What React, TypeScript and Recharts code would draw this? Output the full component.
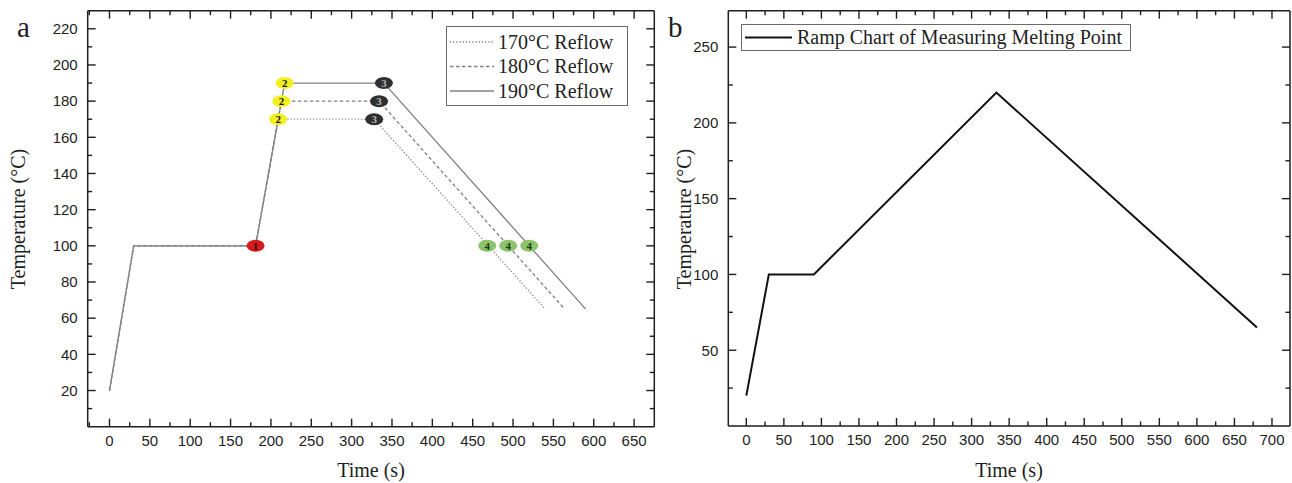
import React from "react";
import { ComposedChart, Line, Scatter, XAxis, YAxis } from "recharts";

// ---- panel a: reflow profiles ----
const reflowTime170 = [0, 30, 181, 209, 328, 540];
const reflowTemp170 = [20, 100, 100, 170, 170, 65];
const reflowTime180 = [0, 30, 181, 213, 334, 564];
const reflowTemp180 = [20, 100, 100, 180, 180, 65];
const reflowTime190 = [0, 30, 181, 217, 340, 590];
const reflowTemp190 = [20, 100, 100, 190, 190, 65];

// numbered stage markers
const stage1Time = [181];
const stage1Temp = [100];
const stage2Time = [209, 213, 217];
const stage2Temp = [170, 180, 190];
const stage3Time = [328, 334, 340];
const stage3Temp = [170, 180, 190];
const stage4Time = [468, 494, 520];
const stage4Temp = [100, 100, 100];

const reflowLabels = ["170°C Reflow", "180°C Reflow", "190°C Reflow"];

const xTicksA = [0, 50, 100, 150, 200, 250, 300, 350, 400, 450, 500, 550, 600, 650];
const yTicksA = [20, 40, 60, 80, 100, 120, 140, 160, 180, 200, 220];

// ---- panel b: melting point ramp ----
const rampTime = [0, 30, 90, 333, 680];
const rampTemp = [20, 100, 100, 220, 65];
const rampLabel = "Ramp Chart of Measuring Melting Point";

const xTicksB = [0, 50, 100, 150, 200, 250, 300, 350, 400, 450, 500, 550, 600, 650, 700];
const yTicksB = [50, 100, 150, 200, 250];

const zip = (ts: number[], vs: number[]) => ts.map((t, i) => ({ t, v: vs[i] }));

// minor ticks sit halfway between majors
const withMinors = (majors: number[], half: number, lo: number, hi: number) => {
  const all = new Set<number>(majors);
  majors.forEach((m) => {
    if (m - half > lo) all.add(m - half);
    if (m + half < hi) all.add(m + half);
  });
  return Array.from(all).sort((a, b) => a - b);
};

const INK = "#1e1e1e";
const SANS = "'Liberation Sans', Arial, sans-serif";
const SERIF = "'Liberation Serif', 'Times New Roman', serif";

type Side = "bottom" | "top" | "left" | "right";

const makeTick = (side: Side, majors: number[], showLabel: boolean) => (props: any) => {
  const { x, y, payload } = props;
  const v = payload.value;
  const major = majors.includes(v);
  const len = major ? 8 : 4.5;
  let line;
  let label = null;
  if (side === "bottom") {
    line = <line x1={x} y1={y} x2={x} y2={y - len} stroke={INK} strokeWidth={1.4} />;
    if (showLabel && major)
      label = (
        <text x={x} y={y + 19} textAnchor="middle" fontSize={15} fontFamily={SANS} fill={INK}>
          {v}
        </text>
      );
  } else if (side === "top") {
    line = <line x1={x} y1={y} x2={x} y2={y + len} stroke={INK} strokeWidth={1.4} />;
  } else if (side === "left") {
    line = <line x1={x} y1={y} x2={x + len} y2={y} stroke={INK} strokeWidth={1.4} />;
    if (showLabel && major)
      label = (
        <text x={x - 10} y={y + 5.3} textAnchor="end" fontSize={15} fontFamily={SANS} fill={INK}>
          {v}
        </text>
      );
  } else {
    line = <line x1={x} y1={y} x2={x - len} y2={y} stroke={INK} strokeWidth={1.4} />;
  }
  return (
    <g>
      {line}
      {label}
    </g>
  );
};

const stageMarker = (fill: string, textFill: string, n: string) => (props: any) => {
  const { cx, cy } = props;
  return (
    <g>
      <ellipse cx={cx} cy={cy} rx={9} ry={6} fill={fill} />
      <text
        x={cx}
        y={cy + 3.8}
        textAnchor="middle"
        fontSize={11}
        fontWeight="bold"
        fontFamily={SERIF}
        fill={textFill}
      >
        {n}
      </text>
    </g>
  );
};

const axisLine = { stroke: INK, strokeWidth: 1.5 };

// four framed axes: labelled bottom/left, mirrored tick-only top/right
const axes = (
  xDomain: [number, number],
  yDomain: [number, number],
  xMajors: number[],
  yMajors: number[],
  xHalf: number,
  yHalf: number
) => {
  const xAll = withMinors(xMajors, xHalf, xDomain[0], xDomain[1]);
  const yAll = withMinors(yMajors, yHalf, yDomain[0], yDomain[1]);
  const common = {
    type: "number" as const,
    allowDataOverflow: true,
    interval: 0 as const,
    tickSize: 0,
    tickMargin: 0,
    tickLine: false,
    axisLine,
  };
  return [
    <XAxis key="xb" dataKey="t" domain={xDomain} ticks={xAll} height={30} {...common} tick={makeTick("bottom", xMajors, true)} />,
    <XAxis
      key="xt"
      xAxisId="top"
      orientation="top"
      dataKey="t"
      domain={xDomain}
      ticks={xAll}
      height={1}
      {...common}
      tick={makeTick("top", xMajors, false)}
    />,
    <YAxis key="yl" domain={yDomain} ticks={yAll} width={50} {...common} tick={makeTick("left", yMajors, true)} />,
    <YAxis
      key="yr"
      yAxisId="right"
      orientation="right"
      domain={yDomain}
      ticks={yAll}
      width={1}
      {...common}
      tick={makeTick("right", yMajors, false)}
    />,
  ];
};

const LINE_GRAY = "#808080";

export default function App() {
  const dashes = ["1.2 2", "3.5 2.5", undefined];
  const reflows = [
    zip(reflowTime170, reflowTemp170),
    zip(reflowTime180, reflowTemp180),
    zip(reflowTime190, reflowTemp190),
  ];

  return (
    <div
      style={{
        position: "absolute",
        left: 0,
        top: 0,
        width: 1292,
        height: 483,
        background: "#fff",
        overflow: "hidden",
      }}
    >
      <div style={{ position: "absolute", left: 0, top: 0 }}>
        <ComposedChart width={670} height={483} margin={{ top: 9.7, right: 14.7, bottom: 26.3, left: 37.7 }}>
          {axes([-27, 675], [0, 230], xTicksA, yTicksA, 25, 10)}
          {reflows.map((d, i) => (
            <Line
              key={reflowLabels[i]}
              data={d}
              dataKey="v"
              type="linear"
              stroke={LINE_GRAY}
              strokeWidth={1.3}
              strokeDasharray={dashes[i]}
              dot={false}
              activeDot={false}
              isAnimationActive={false}
            />
          ))}
          <Scatter data={zip(stage1Time, stage1Temp)} dataKey="v" shape={stageMarker("#d41c1c", "#3a0000", "1")} isAnimationActive={false} />
          <Scatter data={zip(stage2Time, stage2Temp)} dataKey="v" shape={stageMarker("#f2f01e", "#111", "2")} isAnimationActive={false} />
          <Scatter data={zip(stage3Time, stage3Temp)} dataKey="v" shape={stageMarker("#2f2f2f", "#b8b8b8", "3")} isAnimationActive={false} />
          <Scatter data={zip(stage4Time, stage4Temp)} dataKey="v" shape={stageMarker("#8cc46c", "#1c3a10", "4")} isAnimationActive={false} />
        </ComposedChart>
      </div>

      <div style={{ position: "absolute", left: 670, top: 0 }}>
        <ComposedChart width={622} height={483} margin={{ top: 9.7, right: 1, bottom: 27, left: 8.3 }}>
          {axes([-24, 724], [0, 274], xTicksB, yTicksB, 25, 25)}
          <Line
            data={zip(rampTime, rampTemp)}
            dataKey="v"
            type="linear"
            stroke="#111"
            strokeWidth={2}
            dot={false}
            activeDot={false}
            isAnimationActive={false}
          />
        </ComposedChart>
      </div>

      {/* titles and legends */}
      <svg
        width={1292}
        height={483}
        style={{ position: "absolute", left: 0, top: 0, pointerEvents: "none" }}
      >
        <text x={17} y={37} fontSize={29} fontFamily={SERIF} fill={INK}>
          a
        </text>
        <text x={668} y={37} fontSize={29} fontFamily={SERIF} fill={INK}>
          b
        </text>

        <text
          x={0}
          y={0}
          transform="translate(25 219) rotate(-90)"
          textAnchor="middle"
          fontSize={20}
          fontFamily={SERIF}
          fill={INK}
        >
          Temperature (°C)
        </text>
        <text
          x={0}
          y={0}
          transform="translate(691 219) rotate(-90)"
          textAnchor="middle"
          fontSize={20}
          fontFamily={SERIF}
          fill={INK}
        >
          Temperature (°C)
        </text>
        <text x={371} y={477} textAnchor="middle" fontSize={20} fontFamily={SERIF} fill={INK}>
          Time (s)
        </text>
        <text x={1009} y={477} textAnchor="middle" fontSize={20} fontFamily={SERIF} fill={INK}>
          Time (s)
        </text>

        {/* legend a */}
        <rect x={446.5} y={26.5} width={181} height={79} fill="#fff" stroke="#6a6a6a" strokeWidth={1} />
        {reflowLabels.map((lab, i) => {
          const cy = 42 + i * 24.5;
          return (
            <g key={lab}>
              <line x1={450} y1={cy} x2={494} y2={cy} stroke={LINE_GRAY} strokeWidth={1.3} strokeDasharray={dashes[i]} />
              <text x={498} y={cy + 6.5} fontSize={20} fontFamily={SERIF} fill={INK}>
                {lab}
              </text>
            </g>
          );
        })}

        {/* legend b */}
        <rect x={741.5} y={24.5} width={389} height={26} fill="#fff" stroke="#6a6a6a" strokeWidth={1} />
        <line x1={745} y1={37.5} x2={792} y2={37.5} stroke="#111" strokeWidth={2} />
        <text x={797} y={44} fontSize={20} fontFamily={SERIF} fill={INK}>
          {rampLabel}
        </text>
      </svg>
    </div>
  );
}
